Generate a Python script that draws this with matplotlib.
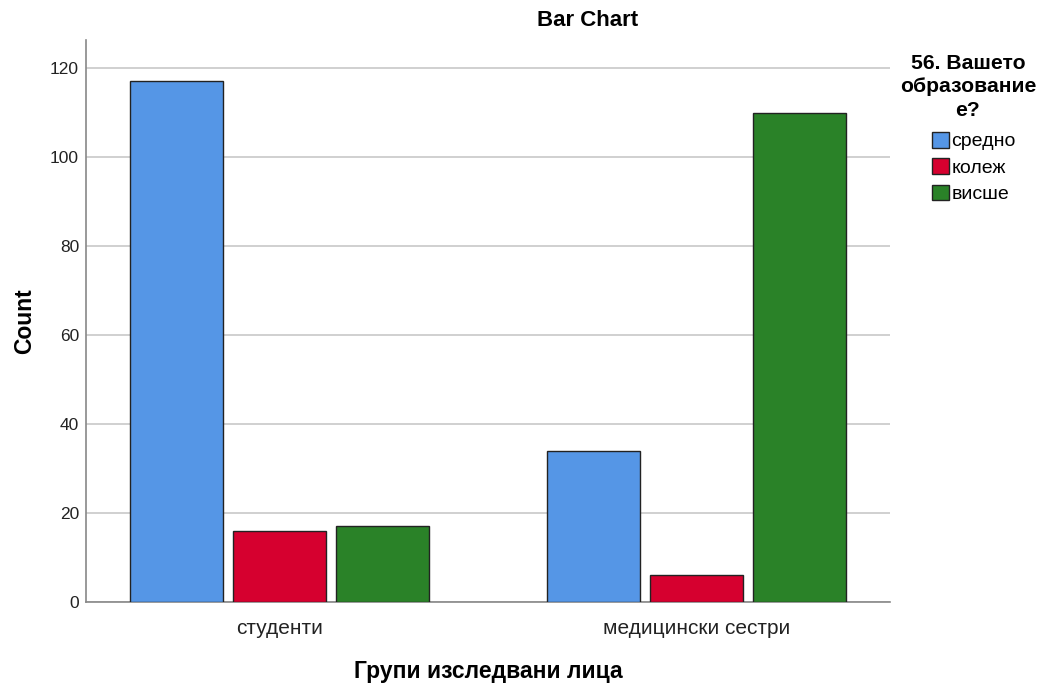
import numpy as np
import matplotlib
matplotlib.use("Agg")
from matplotlib import pyplot as plt
from matplotlib.patches import Patch

plt.rcParams['font.family'] = ['Liberation Sans', 'DejaVu Sans']

#groups on the x axis
groups = ["студенти", "медицински сестри"]
#education levels (legend)
levels = ["средно", "колеж", "висше"]
#counts per level, one list per level
sredno = [117, 34]
kolej = [16, 6]
vishe = [17, 110]
colors = ["#5596e6", "#d6002f", "#2a8228"]

fig = plt.figure(figsize=(10.6, 6.86), dpi=100)
ax = fig.add_axes([0.0811, 0.1224, 0.7585, 0.8193])

x = np.arange(len(groups))
width = 0.223
step = 0.247
for i, (vals, col) in enumerate(zip([sredno, kolej, vishe], colors)):
	ax.bar(x + (i - 1) * step, vals, width, color=col, edgecolor="#222222",
		linewidth=1.0, zorder=3)

ax.set_xlim(-0.465, 1.463)
ax.set_ylim(0, 126.3)
ax.set_yticks(np.arange(0, 121, 20))
ax.set_xticks(x)
ax.set_xticklabels(groups, fontsize=15, color="#222222")
ax.tick_params(axis="y", labelsize=12.5, length=0, pad=5, colors="#222222")
ax.tick_params(axis="x", length=0, pad=12)
ax.grid(axis="y", color="#c8c8c8", linewidth=1.2, zorder=0)

for s in ["top", "right"]:
	ax.spines[s].set_visible(False)
for s in ["left", "bottom"]:
	ax.spines[s].set_color("#888888")
	ax.spines[s].set_linewidth(1.2)

ax.set_ylabel("Count", fontsize=16.5, fontweight="bold", labelpad=10)
ax.set_xlabel("Групи изследвани лица", fontsize=16.5, fontweight="bold", labelpad=16)

fig.text(588 / 1060, 1 - 21 / 686, "Bar Chart", ha="center", va="center",
	fontsize=16, fontweight="bold")

#legend title and entries
fig.text(968 / 1060, 1 - 87 / 686, "56. Вашето\nобразование\nе?", ha="center",
	va="center", fontsize=15.2, fontweight="bold", linespacing=1.3)
handles = [Patch(facecolor=c, edgecolor="#222222", label=l) for c, l in zip(colors, levels)]
fig.legend(handles=handles, loc="upper left", bbox_to_anchor=(932 / 1060, 1 - 132 / 686),
	frameon=False, fontsize=14, handlelength=0.85, handleheight=0.85,
	handletextpad=0.15, labelspacing=0.4, borderpad=0, borderaxespad=0)

fig.savefig("out.png", dpi=100)
